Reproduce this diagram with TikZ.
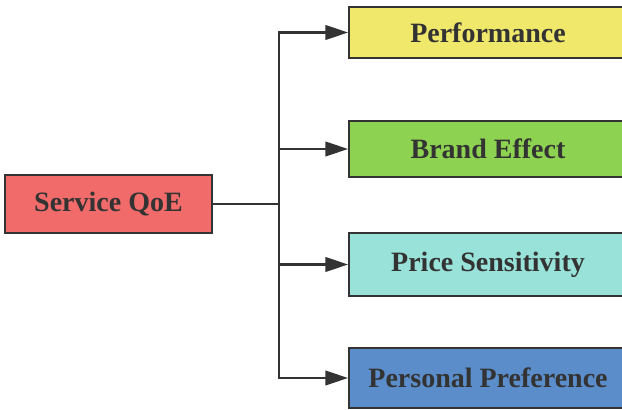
\documentclass[tikz,border=0pt]{standalone}
\usepackage{fontspec}
\setmainfont{Liberation Serif}
\usetikzlibrary{arrows.meta}
\definecolor{qoered}{HTML}{F26B6B}
\definecolor{perfyellow}{HTML}{F0E86A}
\definecolor{brandgreen}{HTML}{8DD250}
\definecolor{pricecyan}{HTML}{98E2D9}
\definecolor{prefblue}{HTML}{5A8DC9}
\definecolor{inkgray}{HTML}{333333}
\tikzset{
  factorbox/.style={draw=inkgray, line width=1.5pt, minimum width=208.5pt,
    font=\bfseries\fontsize{21}{24}\selectfont, text=inkgray, inner sep=0pt},
  link/.style={draw=inkgray, line width=1.6pt},
  arrowlink/.style={link, -{Triangle[length=17pt,width=11pt]}}
}
\begin{document}
\begin{tikzpicture}[x=0.75pt,y=-0.75pt]
  \clip (0,0) rectangle (622,410);
  \node[factorbox, fill=qoered, minimum width=155pt, minimum height=44pt] (qoe) at (108.5,204) {Service QoE};
  \node[factorbox, fill=perfyellow, minimum height=38pt] (perf) at (488,32.5) {Performance};
  \node[factorbox, fill=brandgreen, minimum height=42pt] (brand) at (488,149) {Brand Effect};
  \node[factorbox, fill=pricecyan, minimum height=47pt] (price) at (488,264.5) {Price Sensitivity};
  \node[factorbox, fill=prefblue, minimum height=45pt] (pref) at (488,378) {Personal Preference};
  \coordinate (split) at (279,204);
  \draw[link] (qoe.east) -- (split);
  \draw[arrowlink] (split) |- (perf.west);
  \draw[arrowlink] (split) |- (brand.west);
  \draw[arrowlink] (split) |- (price.west);
  \draw[arrowlink] (split) |- (pref.west);
\end{tikzpicture}
\end{document}
